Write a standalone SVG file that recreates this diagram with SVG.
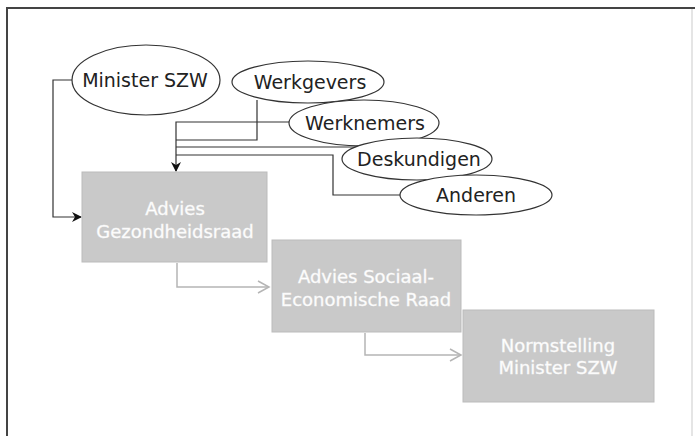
<svg xmlns="http://www.w3.org/2000/svg" width="695" height="436" viewBox="0 0 695 436">
<style>
.frame-d{stroke:#444;stroke-width:2;fill:none}
.frame-l{stroke:#ddd;stroke-width:1.5;fill:none}
.ell{fill:#fff;stroke:#333;stroke-width:1.2}
.lbl{font-family:"DejaVu Sans",Verdana,sans-serif;font-size:19px;fill:#222;text-anchor:middle}
.box{fill:#c9c9c9;stroke:#bbb;stroke-width:1}
.blbl{font-family:"DejaVu Sans",Verdana,sans-serif;font-size:18px;fill:#fff;text-anchor:middle;stroke:#f4f4f4;stroke-width:0.4}
.cb{fill:none;stroke:#333;stroke-width:1.2}
.cg{fill:none;stroke:#b5b5b5;stroke-width:1.5}
</style>
<defs>
<marker id="ab" markerWidth="10" markerHeight="10" refX="9" refY="5" orient="auto" markerUnits="userSpaceOnUse">
<path d="M0,0 L10,5 L0,10 L3,5 Z" fill="#111"/>
</marker>
<marker id="ag" markerWidth="14" markerHeight="14" refX="12" refY="7" orient="auto" markerUnits="userSpaceOnUse">
<path d="M1,1 L12,7 L1,13" fill="none" stroke="#b5b5b5" stroke-width="1.5"/>
</marker>
</defs>
<rect width="695" height="436" fill="#fff"/>
<path class="frame-d" d="M7,436 L7,8 L695,8"/>
<path class="frame-l" d="M692,9 L692,436"/>
<g id="connectors">
<path class="cb" d="M72,80 L53,80 L53,217 L81,217" marker-end="url(#ab)"/>
<path class="cb" d="M257,100 L257,140 L176,140"/>
<path class="cb" d="M290,122 L176,122 L176,171" marker-end="url(#ab)"/>
<path class="cb" d="M176,147 L360,147"/>
<path class="cb" d="M176,155 L333,155 L333,195 L401,195"/>
<path class="cg" d="M177,263 L177,287 L269,287" marker-end="url(#ag)"/>
<path class="cg" d="M365,333 L365,355 L461,355" marker-end="url(#ag)"/>
</g>
<g id="minister">
<ellipse class="ell" cx="146" cy="80" rx="74" ry="35"/>
<text class="lbl" x="145" y="87">Minister SZW</text>
</g>
<g id="werkgevers">
<ellipse class="ell" cx="308" cy="82" rx="76" ry="21"/>
<text class="lbl" x="310" y="89">Werkgevers</text>
</g>
<g id="werknemers">
<ellipse class="ell" cx="364" cy="123" rx="75" ry="23"/>
<text class="lbl" x="365" y="130">Werknemers</text>
</g>
<g id="deskundigen">
<ellipse class="ell" cx="417" cy="159" rx="75" ry="21"/>
<text class="lbl" x="419" y="166">Deskundigen</text>
</g>
<g id="anderen">
<ellipse class="ell" cx="476" cy="195" rx="76" ry="20"/>
<text class="lbl" x="476" y="202">Anderen</text>
</g>
<g id="gezondheidsraad">
<rect class="box" x="82" y="172" width="185" height="90"/>
<text class="blbl" x="175" y="215">Advies</text>
<text class="blbl" x="175" y="238">Gezondheidsraad</text>
</g>
<g id="ser">
<rect class="box" x="272" y="240" width="189" height="92"/>
<text class="blbl" x="366" y="283">Advies Sociaal-</text>
<text class="blbl" x="366" y="306">Economische Raad</text>
</g>
<g id="normstelling">
<rect class="box" x="463" y="310" width="191" height="92"/>
<text class="blbl" x="558" y="352">Normstelling</text>
<text class="blbl" x="558" y="374">Minister SZW</text>
</g>
</svg>
